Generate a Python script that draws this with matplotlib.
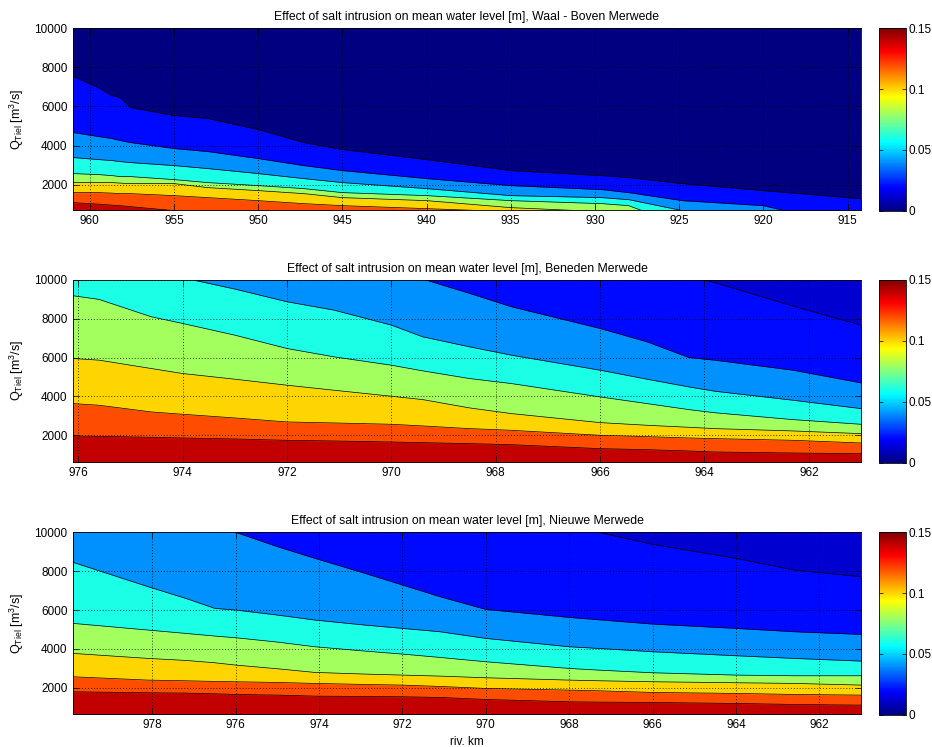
import numpy as np
import matplotlib
matplotlib.use('Agg')
import matplotlib.pyplot as plt
from matplotlib import cm, colors

plt.rcParams['font.family'] = ['Liberation Sans', 'DejaVu Sans']
plt.rcParams['font.size'] = 8
plt.rcParams['mathtext.default'] = 'regular'

# contour levels of the effect on mean water level [m]
levels = [0.02, 0.04, 0.06, 0.08, 0.10, 0.12, 0.14]
cmax = 0.15

# Waal - Boven Merwede: Q_Tiel [m3/s] where the effect equals each level
km_waal = [961.0, 959.5, 958.7, 958.2, 957.6, 955.0, 953.0, 950.0, 947.3, 945.0,
           940.0, 935.0, 929.6, 928.0, 924.8, 920.0, 914.2]
q_waal = [
    [7538, 6974, 6564, 6461, 5949, 5538, 5385, 4820, 4154, 3795, 3282, 2718, 2462, 2359, 2051, 1692, 1282],
    [4667, 4462, 4359, 4256, 4154, 3846, 3692, 3333, 2974, 2718, 2308, 1949, 1744, 1590, 1179, 923, -256],
    [3385, 3282, 3231, 3179, 3128, 2974, 2821, 2564, 2308, 2103, 1795, 1436, 1333, 1231, 667, 154, -615],
    [2564, 2513, 2462, 2410, 2410, 2256, 2103, 1949, 1795, 1590, 1436, 1179, 1026, 923, -103, -872, -1641],
    [2103, 2103, 2103, 2077, 2051, 2051, 1846, 1692, 1538, 1333, 1179, 821, 615, 564, 410, 154, -256],
    [1590, 1590, 1564, 1538, 1538, 1436, 1333, 1179, 1026, 923, 769, 615, 410, 308, 154, -103, -462],
    [1077, 1000, 949, 923, 872, 667, 615, 462, 308, 205, 0, -205, -410, -513, -667, -872, -1128],
]

# Beneden Merwede
km_bm = [976.1, 975.6, 974.6, 974.0, 973.0, 972.0, 971.1, 970.0, 969.4, 968.5,
         967.7, 966.0, 965.1, 964.3, 963.8, 962.3, 961.0]
q_bm = [
    [12500, 12400, 12200, 12100, 12000, 11900, 11800, 11700, 11600, 11500, 11450, 11400, 10772, 10222, 9866, 8656, 7676],
    [12500, 12400, 12300, 12200, 12000, 11750, 11477, 10582, 10050, 9310, 8622, 7504, 6816, 6008, 5870, 5354, 4700],
    [11374, 11064, 10497, 10118, 9534, 8880, 8450, 7676, 7074, 6558, 6128, 5354, 4890, 4494, 4270, 3806, 3376],
    [9190, 9000, 8106, 7762, 7160, 6472, 6042, 5612, 5320, 4924, 4666, 3978, 3634, 3324, 3161, 2808, 2568],
    [5956, 5870, 5440, 5182, 4890, 4580, 4322, 4012, 3840, 3410, 3118, 2654, 2516, 2413, 2344, 2224, 2086],
    [3634, 3548, 3204, 3084, 2894, 2688, 2636, 2568, 2482, 2344, 2258, 2000, 1931, 1862, 1828, 1742, 1604],
    [1966, 1948, 1897, 1862, 1811, 1742, 1708, 1656, 1622, 1570, 1518, 1312, 1260, 1192, 1140, 1088, 1054],
]

# Nieuwe Merwede
km_nm = [979.9, 978.1, 977.2, 976.5, 976.0, 975.0, 974.1, 972.9, 972.0, 971.1,
         970.0, 968.0, 967.3, 966.0, 964.0, 962.6, 961.0]
q_nm = [
    [13000, 12800, 12600, 12400, 12300, 12100, 11900, 11700, 11500, 11300, 11000, 10344, 10000, 9382, 8661, 8060, 7717],
    [12000, 11250, 10636, 10327, 10000, 9262, 8661, 7889, 7288, 6687, 6034, 5622, 5502, 5279, 5056, 4884, 4747],
    [8455, 7202, 6601, 6086, 6000, 5742, 5485, 5227, 5056, 4884, 4541, 4111, 4026, 3854, 3648, 3510, 3373],
    [5313, 4970, 4798, 4661, 4575, 4352, 4111, 3888, 3734, 3562, 3339, 2995, 2909, 2772, 2652, 2618, 2618],
    [3768, 3510, 3407, 3287, 3167, 2978, 2789, 2704, 2652, 2600, 2515, 2394, 2360, 2309, 2257, 2223, 2137],
    [2566, 2394, 2360, 2326, 2309, 2274, 2223, 2171, 2137, 2068, 1965, 1879, 1845, 1759, 1708, 1656, 1622],
    [1793, 1742, 1725, 1691, 1656, 1622, 1570, 1553, 1536, 1502, 1398, 1278, 1261, 1244, 1192, 1141, 1106],
]

titles = ['Waal - Boven Merwede', 'Beneden Merwede', 'Nieuwe Merwede']
zfloor = [0.0, 0.012, 0.012]        # smallest effect in each reach
qmin = [710, 650, 660]
qmax = 10000
xticks = [np.arange(960, 914, -5), np.arange(976, 961, -2), np.arange(978, 961, -2)]
yticks = [2000, 4000, 6000, 8000, 10000]

# matlab style jet
cmap = colors.LinearSegmentedColormap('mjet', {
    'red':   [(0, 0, 0), (0.375, 0, 0), (0.625, 1, 1), (0.875, 1, 1), (1, 0.5, 0.5)],
    'green': [(0, 0, 0), (0.125, 0, 0), (0.375, 1, 1), (0.625, 1, 1), (0.875, 0, 0), (1, 0, 0)],
    'blue':  [(0, 0.5, 0.5), (0.125, 1, 1), (0.375, 1, 1), (0.625, 0, 0), (1, 0, 0)],
}, N=256)
norm = colors.Normalize(0, cmax)

W, H = 932, 747
fig = plt.figure(figsize=(W / 100, H / 100), dpi=100)

panels = [(km_waal, q_waal), (km_bm, q_bm), (km_nm, q_nm)]
tops = [28.3, 280.0, 532.3]
for i, (km, qq) in enumerate(panels):
    top = tops[i]
    hgt = 181.5
    ax = fig.add_axes([73 / W, 1 - (top + hgt) / H, 788 / W, hgt / H])
    ax.set_facecolor(cmap(norm(zfloor[i])))
    km = np.array(km)
    for lev, q in zip(levels, qq):
        ax.fill_between(km, np.array(q, dtype=float), -5000, color=cmap(norm(lev)), lw=0)
    for q in qq:
        ax.plot(km, q, color='k', lw=0.5)
    ax.set_xlim(km[0], km[-1])
    ax.set_ylim(qmin[i], qmax)
    ax.set_xticks(xticks[i])
    ax.set_yticks(yticks)
    ax.set_axisbelow(False)
    ax.grid(True, linestyle=(0, (1, 2.5)), color='k', lw=0.6)
    ax.tick_params(direction='in', top=True, right=True, length=4, width=0.5, pad=4,
                   labelsize=8.5)
    for s in ax.spines.values():
        s.set_linewidth(0.6)
    ax.set_title('Effect of salt intrusion on mean water level [m], ' + titles[i],
                 fontsize=8.8, pad=6)
    ax.set_ylabel(r'Q$_{Tiel}$ [m$^3$/s]', fontsize=9, labelpad=6)
    if i == 2:
        ax.set_xlabel('riv. km', fontsize=8.5, labelpad=3)

    cax = fig.add_axes([879 / W, 1 - (top + hgt + 1) / H, 27 / W, (hgt + 1) / H])
    cb = fig.colorbar(cm.ScalarMappable(norm=norm, cmap=cmap), cax=cax)
    cb.set_ticks([0, 0.05, 0.1, 0.15])
    cb.set_ticklabels(['0', '0.05', '0.1', '0.15'])
    cb.outline.set_linewidth(0.6)
    cax.tick_params(direction='in', left=True, right=True, length=3, width=0.5,
                    labelsize=8.5, pad=2)

fig.savefig('out.png', dpi=100)
